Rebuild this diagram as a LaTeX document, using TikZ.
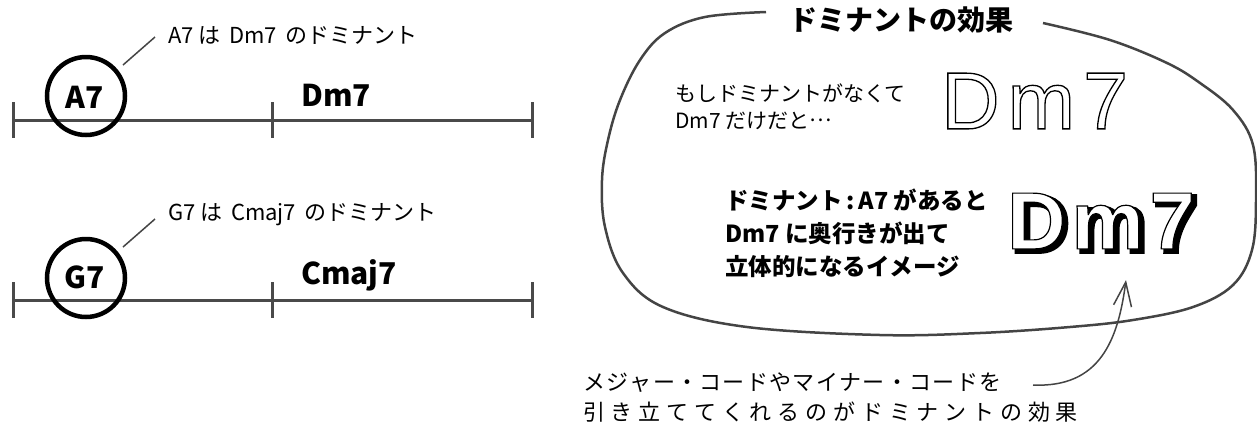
\documentclass[tikz,border=0pt]{standalone}
\usepackage{fontspec}
\setmainfont{Noto Sans CJK JP}
\newfontfamily\dmfont{Liberation Sans}
\usetikzlibrary{arrows.meta}
\definecolor{barc}{HTML}{4A4A4A}
\definecolor{ink}{HTML}{444444}
\makeatletter
\newcommand\spaced[2]{\def\spcamt{#1}\spaced@loop#2\relax}
\def\spaced@loop#1{\ifx\relax#1\unskip\else#1\hskip\spcamt\relax\expandafter\spaced@loop\fi}
\makeatother
\newcommand\strokeon{\special{pdf:literal direct 1 Tr 1.3 w 0 G}}
\newcommand\fillstrokeon{\special{pdf:literal direct 2 Tr 1.2 w 1 g 0 G}}
\newcommand\shadowon{\special{pdf:literal direct 2 Tr 4 w 0 g 0 G}}
\newcommand\renderoff{\special{pdf:literal direct 0 Tr 0 g 0 G}}
\begin{document}
\begin{tikzpicture}[x=1pt,y=-1pt,
  bar/.style={draw=barc, line width=3pt},
  ring/.style={draw=black, line width=4.5pt, circle, minimum size=78pt, inner sep=0},
  chord/.style={font=\bfseries\fontsize{30}{30}\selectfont, inner sep=0},
  callout/.style={draw=ink, line width=1.5pt},
  note/.style={font=\fontsize{22}{22}\selectfont, inner sep=0, anchor=west},
  dmthin/.style={font=\dmfont\fontsize{81}{81}\selectfont, inner sep=0, anchor=west},
  dmbold/.style={font=\dmfont\bfseries\fontsize{81}{81}\selectfont, inner sep=0, anchor=west},
]
\useasboundingbox (0,0) rectangle (1257,424);

% ---- row 1
\coordinate (r1a) at (13,120);
\coordinate (r1b) at (272,120);
\coordinate (r1c) at (532,120);
\draw[bar] (r1a) -- (r1c);
\foreach \p in {r1a,r1b,r1c} \draw[bar] ([yshift=18pt]\p) -- ([yshift=-18pt]\p);
\node[ring] (c1) at (86,96) {};
\node[chord] (a7) at (85,97) {A7};
\node[chord, anchor=west] (dm7) at (301,95) {Dm7};
\coordinate (k1s) at (123,65);
\coordinate (k1e) at (155,37);
\draw[callout] (k1s) -- (k1e);
\node[note] (l1) at (168,35) {A7 は\, Dm7 \,のドミナント};

% ---- row 2
\coordinate (r2a) at (13,300);
\coordinate (r2b) at (272,300);
\coordinate (r2c) at (532,300);
\draw[bar] (r2a) -- (r2c);
\foreach \p in {r2a,r2b,r2c} \draw[bar] ([yshift=18pt]\p) -- ([yshift=-18pt]\p);
\node[ring] (c2) at (86,278) {};
\node[chord] (g7) at (85,277) {G7};
\node[chord, anchor=west] (cmaj7) at (301,275) {Cmaj7};
\coordinate (k2s) at (123,247);
\coordinate (k2e) at (155,219);
\draw[callout] (k2s) -- (k2e);
\node[note] (l2) at (168,215) {G7 は\, Cmaj7 \,のドミナント};

% ---- blob
\draw[ink, line width=2.5pt] plot[smooth, tension=0.6] coordinates {
 (766,12) (705,17) (665,33) (640,60) (620,100) (608,140) (602,180) (605,227)
 (623,273) (663,307) (747,327) (880,335) (980,333) (1070,327) (1133,320)
 (1193,307) (1233,285) (1252,250) (1256,200) (1253,145) (1233,110) (1200,83)
 (1167,63) (1110,40) (1043,23)};
\node[font=\bfseries\fontsize{28}{28}\selectfont, inner sep=0] (title) at (901,20) {ドミナントの効果};

\node[align=left, anchor=west, inner sep=0, font=\fontsize{21}{27}\selectfont] (q1) at (675,106.5) {もしドミナントがなくて\\Dm7 だけだと\raisebox{0.3em}{…}};
\node[align=left, anchor=west, inner sep=0, font=\bfseries\fontsize{23.5}{33}\selectfont] (q2) at (725,233) {ドミナント\,:\,A7 があると\\Dm7 に奥行きが出て\\立体的になるイメージ};

% ---- big Dm7
\node[dmthin] (dmA) at (941,101) {\strokeon D\kern8pt m\kern8pt 7\renderoff};
\node[dmbold] (dmsh) at (1011,224) {\shadowon D\kern6pt m\kern6pt 7\renderoff};
\node[dmbold] (dmB) at (1007,221) {\fillstrokeon D\kern6pt m\kern6pt 7\renderoff};

% ---- bottom note and arrow
\node[align=left, anchor=west, inner sep=0, font=\fontsize{22}{30}\selectfont] (bot) at (583,398)
  {\spaced{1.3pt}{メジャー・コードやマイナー・コードを}\\\spaced{5.8pt}{引き立ててくれるのがドミナントの効果}};
\coordinate (atail) at (1033,385);
\coordinate (ahead) at (1126,280);
\draw[ink, line width=1.5pt, -{Straight Barb[length=24pt,width=18pt]}] (atail) .. controls (1100,388) and (1118,340) .. (ahead);
\end{tikzpicture}
\end{document}
